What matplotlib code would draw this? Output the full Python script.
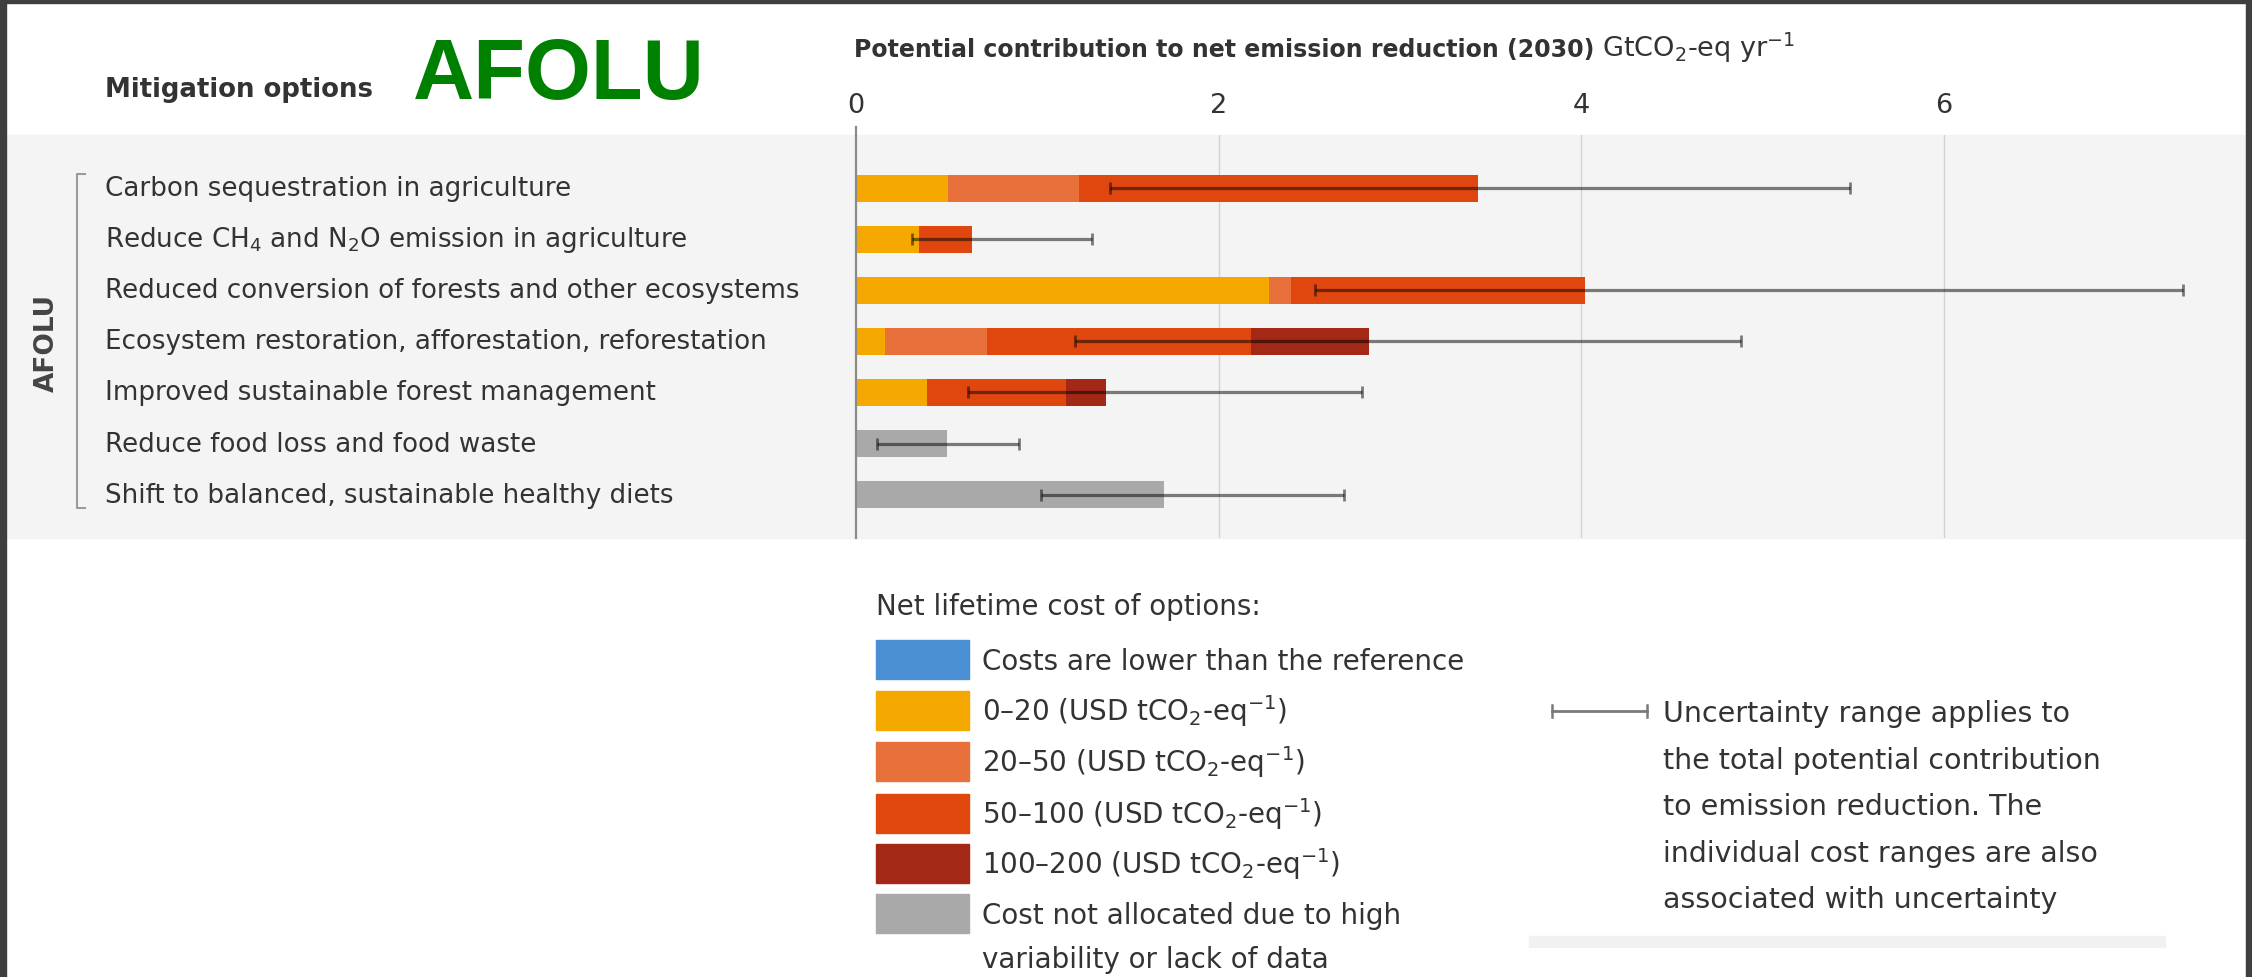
import matplotlib
matplotlib.use("Agg")
import matplotlib.pyplot as plt
from matplotlib.patches import Rectangle
from matplotlib.lines import Line2D
from matplotlib import transforms

plt.rcParams['font.family'] = ['DejaVu Sans']
plt.rcParams['mathtext.fontset'] = 'dejavusans'

# --- data (GtCO2-eq/yr, 2030) ---
options = [
    "Carbon sequestration in agriculture",
    "Reduce CH$_4$ and N$_2$O emission in agriculture",
    "Reduced conversion of forests and other ecosystems",
    "Ecosystem restoration, afforestation, reforestation",
    "Improved sustainable forest management",
    "Reduce food loss and food waste",
    "Shift to balanced, sustainable healthy diets",
]
cost_lower = [0, 0, 0, 0, 0, 0, 0]
cost_0_20 = [0.51, 0.35, 2.28, 0.16, 0.39, 0, 0]
cost_20_50 = [0.72, 0, 0.12, 0.56, 0, 0, 0]
cost_50_100 = [2.20, 0.29, 1.62, 1.46, 0.77, 0, 0]
cost_100_200 = [0, 0, 0, 0.65, 0.22, 0, 0]
cost_na = [0, 0, 0, 0, 0, 0.50, 1.70]
unc_low = [1.40, 0.31, 2.53, 1.21, 0.62, 0.115, 1.02]
unc_high = [5.48, 1.30, 7.32, 4.88, 2.79, 0.90, 2.69]

series = [cost_lower, cost_0_20, cost_20_50, cost_50_100, cost_100_200, cost_na]
colors = ['#4a8fd4', '#f5a800', '#e8703a', '#e0470f', '#a32816', '#a9a9a9']
legend_labels = [
    "Costs are lower than the reference",
    "0–20 (USD tCO$_2$-eq$^{-1}$)",
    "20–50 (USD tCO$_2$-eq$^{-1}$)",
    "50–100 (USD tCO$_2$-eq$^{-1}$)",
    "100–200 (USD tCO$_2$-eq$^{-1}$)",
    "Cost not allocated due to high\nvariability or lack of data",
]

W, H = 2252, 978
TXT = '#333333'


def fx(x):
    return x / W


def fy(y):
    return 1 - y / H


fig = plt.figure(figsize=(W / 100, H / 100), dpi=100)
fig.patch.set_facecolor('white')

# grey panel behind the bars
fig.patches.append(Rectangle((fx(6), fy(539)), fx(2246) - fx(6), (539 - 136) / H,
                             transform=fig.transFigure, color='#f4f4f4', zorder=-1))

ax = fig.add_axes([fx(856), fy(539), fx(2246) - fx(856), (539 - 136) / H])
ax.set_facecolor('none')
ax.set_xlim(0, (2246 - 856) / 181.3)
ax.set_ylim(6.85, -1.04)

rows = list(range(len(options)))
left = [0] * len(options)
for vals, c in zip(series, colors):
    ax.barh(rows, vals, left=left, height=0.53, color=c, zorder=2)
    left = [l + v for l, v in zip(left, vals)]

mid = [(lo + hi) / 2 for lo, hi in zip(unc_low, unc_high)]
half = [(hi - lo) / 2 for lo, hi in zip(unc_low, unc_high)]
ax.errorbar(mid, rows, xerr=half, fmt='none', ecolor='black', alpha=0.5,
            elinewidth=2.3, capsize=4.5, capthick=2.0, zorder=3)

for g in [2, 4, 6]:
    ax.axvline(g, color='#d2d2d2', lw=1, zorder=1)
ax.axvline(0, ymax=1 + 8 / 403, color='#8a8a8a', lw=1.6, zorder=4, clip_on=False)

ax.xaxis.tick_top()
ax.set_xticks([0, 2, 4, 6])
ax.tick_params(axis='x', length=0, pad=12, labelsize=19.5, labelcolor=TXT)
ax.set_yticks([])
for s in ax.spines.values():
    s.set_visible(False)

# option labels
trans = transforms.blended_transform_factory(fig.transFigure, ax.transData)
for r, name in zip(rows, options):
    ax.text(fx(105), r, name, transform=trans, ha='left', va='center',
            fontsize=18.8, color=TXT)

fig.text(fx(47), fy(343), "AFOLU", rotation=90, ha='center', va='center',
         fontsize=19, fontweight='bold', color='#444444')
fig.lines.append(Line2D([fx(85), fx(77), fx(77), fx(85)], [fy(175), fy(175), fy(509), fy(509)],
                        transform=fig.transFigure, color='#9a9a9a', lw=1.5))

# header
fig.text(fx(105), fy(97), "Mitigation options", fontsize=18.7, fontweight='bold',
         color=TXT, va='baseline')
fig.text(fx(413), fy(99), "AFOLU", family='Liberation Sans', fontsize=61,
         fontweight='bold', color='#008000', va='baseline')
t1 = fig.text(fx(854), fy(57), "Potential contribution to net emission reduction (2030)",
              fontsize=17, fontweight='bold', color=TXT, va='baseline')
fig.canvas.draw()
bb = t1.get_window_extent(fig.canvas.get_renderer())
fig.text((bb.x1 + 8) / W, fy(57), "GtCO$_2$-eq yr$^{-1}$", fontsize=19.5,
         color=TXT, va='baseline')

# legend
fig.text(fx(876), fy(615), "Net lifetime cost of options:", fontsize=20, color=TXT,
         va='baseline')
centers = [660, 711, 762, 814, 864, 914]
for yc, c, lab in zip(centers, colors, legend_labels):
    fig.patches.append(Rectangle((fx(876), fy(yc + 19.5)), (969 - 876) / W, 39 / H,
                                 transform=fig.transFigure, color=c))
    lines = lab.split('\n')
    for i, ln in enumerate(lines):
        fig.text(fx(982), fy(yc + 10.5 + i * 44), ln, fontsize=20, color=TXT,
                 va='baseline')

fig.lines.append(Line2D([fx(1552), fx(1647)], [fy(712), fy(712)],
                        transform=fig.transFigure, color='#7a7a7a', lw=2.0))
for xe in [1552, 1647]:
    fig.lines.append(Line2D([fx(xe), fx(xe)], [fy(706), fy(718)],
                            transform=fig.transFigure, color='#7a7a7a', lw=1.8))
unc_text = ["Uncertainty range applies to",
            "the total potential contribution",
            "to emission reduction. The",
            "individual cost ranges are also",
            "associated with uncertainty"]
for i, ln in enumerate(unc_text):
    fig.text(fx(1663), fy(722.5 + i * 46.5), ln, fontsize=20.5, color=TXT, va='baseline')

# faint strip of the next panel
fig.patches.append(Rectangle((fx(1529), fy(948)), (2165 - 1529) / W, 11 / H,
                             transform=fig.transFigure, color='#f1f1f1'))

# dark frame
for (x0, y0, x1, y1) in [(0, 0, W, 4), (0, 0, 6, H), (2246, 0, W, H)]:
    fig.patches.append(Rectangle((fx(x0), fy(y1)), (x1 - x0) / W, (y1 - y0) / H,
                                 transform=fig.transFigure, color='#3f3f3f', zorder=10))

fig.savefig("out.png", dpi=100)
